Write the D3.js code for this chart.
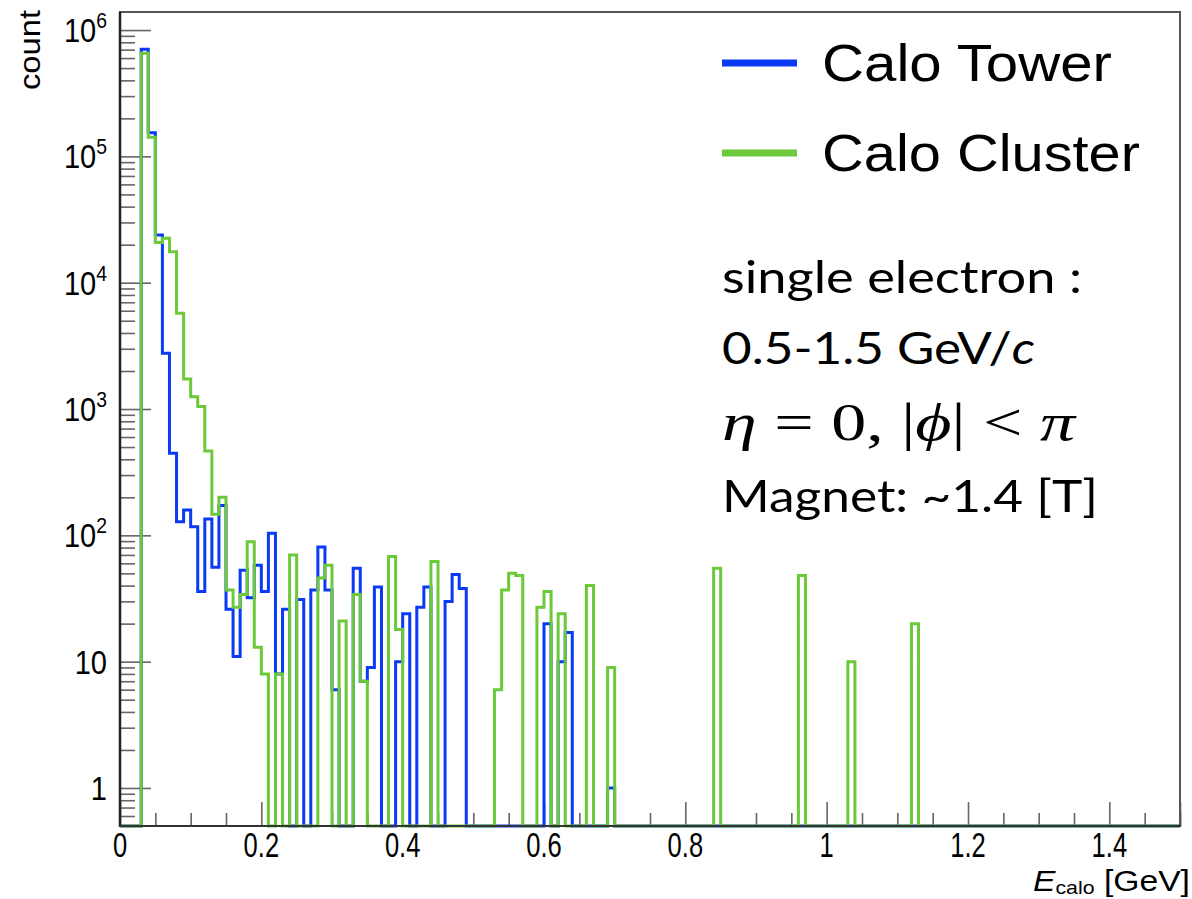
<!DOCTYPE html>
<html>
<head>
<meta charset="utf-8">
<script src="https://cdn.jsdelivr.net/npm/d3@7"></script>
<style>
body { margin: 0; background: #fff; }
</style>
</head>
<body>
<div id="wrapper"></div>
<script>
// histogram, 150 bins of 0.01 GeV from 0 to 1.5
var BIN_WIDTH = 0.01;

var towerCounts = [
    0, 0, 0, 706000, 154000, 23900, 2770, 447, 128, 159,
    117, 36, 135, 56, 172, 26, 11, 53, 32, 58,
    36, 104, 8, 26, 0, 31, 0, 37, 81, 37,
    6, 0, 0, 55, 7, 9, 39, 0, 0, 10,
    24, 0, 27, 39, 0, 0, 30, 49, 38, 0,
    0, 0, 0, 0, 0, 0, 0, 0, 0, 0,
    20, 0, 10, 17, 0, 0, 0, 0, 0, 1,
    0, 0, 0, 0, 0, 0, 0, 0, 0, 0,
    0, 0, 0, 0, 0, 0, 0, 0, 0, 0,
    0, 0, 0, 0, 0, 0, 0, 0, 0, 0,
    0, 0, 0, 0, 0, 0, 0, 0, 0, 0,
    0, 0, 0, 0, 0, 0, 0, 0, 0, 0,
    0, 0, 0, 0, 0, 0, 0, 0, 0, 0,
    0, 0, 0, 0, 0, 0, 0, 0, 0, 0,
    0, 0, 0, 0, 0, 0, 0, 0, 0, 0
];

var clusterCounts = [
    0, 0, 0, 656000, 142000, 20800, 22500, 17600, 5730, 1730,
    1250, 1045, 466, 147, 200, 37, 27, 34, 89, 13,
    8, 0, 8, 0, 70, 0, 0, 0, 46, 58,
    0, 21, 0, 34, 7, 0, 0, 0, 68, 18,
    0, 0, 0, 0, 62, 0, 0, 0, 0, 0,
    0, 0, 0, 6, 37, 50, 48, 0, 0, 27,
    36, 0, 24, 0, 0, 0, 40, 0, 0, 9,
    0, 0, 0, 0, 0, 0, 0, 0, 0, 0,
    0, 0, 0, 0, 55, 0, 0, 0, 0, 0,
    0, 0, 0, 0, 0, 0, 48, 0, 0, 0,
    0, 0, 0, 10, 0, 0, 0, 0, 0, 0,
    0, 0, 20, 0, 0, 0, 0, 0, 0, 0,
    0, 0, 0, 0, 0, 0, 0, 0, 0, 0,
    0, 0, 0, 0, 0, 0, 0, 0, 0, 0,
    0, 0, 0, 0, 0, 0, 0, 0, 0, 0
];

var xTicks = [0, 0.2, 0.4, 0.6, 0.8, 1, 1.2, 1.4];
var xTickLabels = ["0", "0.2", "0.4", "0.6", "0.8", "1", "1.2", "1.4"];

var yTicks = [1, 10, 1e2, 1e3, 1e4, 1e5, 1e6];
var yTickBases = ["1", "10", "10", "10", "10", "10", "10"];
var yTickExps = ["", "", "2", "3", "4", "5", "6"];

var seriesNames = ["Calo Tower", "Calo Cluster"];
var seriesColors = ["#0a3af5", "#6cc93a"];

var noteLines = ["single electron :", "Magnet: ~1.4 [T]"];

function build() {
    var width = 1192, height = 899;

    var svg = d3.select("#wrapper")
        .append("svg")
        .attr("width", width)
        .attr("height", height);

    var x = d3.scaleLinear().domain([0, 1.5]).range([120, 1180]);
    var y = d3.scaleLog().domain([0.5, 1.39e6]).range([826, 12]).clamp(true);

    // minor ticks
    var xMinor = d3.range(0, 1.5001, 0.05).filter(v => Math.abs(v / 0.2 - Math.round(v / 0.2)) > 1e-6);
    var yMinor = [];
    for (var k = -1; k <= 6; k++) {
        for (var m = 2; m <= 9; m++) {
            var v = m * Math.pow(10, k);
            if (v > 0.5 && v < 1.39e6) yMinor.push(v);
        }
    }

    var tickCol = "#666";

    var xMinorAxis = svg.append("g")
        .attr("transform", "translate(0,826)")
        .call(d3.axisBottom(x).tickValues(xMinor).tickSize(-13).tickFormat(""));
    var xMajorAxis = svg.append("g")
        .attr("transform", "translate(0,826)")
        .call(d3.axisBottom(x).tickValues(xTicks.concat([1.5])).tickSize(-24).tickFormat(""));
    var yMinorAxis = svg.append("g")
        .attr("transform", "translate(120,0)")
        .call(d3.axisLeft(y).tickValues(yMinor).tickSize(-15).tickFormat(""));
    var yMajorAxis = svg.append("g")
        .attr("transform", "translate(120,0)")
        .call(d3.axisLeft(y).tickValues(yTicks).tickSize(-31).tickFormat(""));

    [xMinorAxis, xMajorAxis, yMinorAxis, yMajorAxis].forEach(g => {
        g.select(".domain").remove();
        g.selectAll("line").attr("stroke", tickCol).attr("stroke-width", 1.6);
    });

    // histograms
    function histPoints(counts) {
        var pts = counts.map((c, i) => [i * BIN_WIDTH, c]);
        pts.push([counts.length * BIN_WIDTH, counts[counts.length - 1]]);
        return pts;
    }

    var stepLine = d3.line()
        .x(d => x(d[0]))
        .y(d => y(Math.max(d[1], 0.5)))
        .curve(d3.curveStepAfter);

    [towerCounts, clusterCounts].forEach((counts, i) => {
        svg.append("path")
            .attr("d", stepLine(histPoints(counts)))
            .attr("fill", "none")
            .attr("stroke", seriesColors[i])
            .attr("stroke-width", 3)
            .attr("stroke-linejoin", "miter");
    });

    // frame
    svg.append("rect")
        .attr("x", 120).attr("y", 12)
        .attr("width", 1060).attr("height", 814)
        .attr("fill", "none")
        .attr("stroke", "#555")
        .attr("stroke-width", 2);
    svg.append("line")
        .attr("x1", 120).attr("x2", 120)
        .attr("y1", 12).attr("y2", 827)
        .attr("stroke", "#222").attr("stroke-width", 2.5);
    svg.append("line")
        .attr("x1", 119).attr("x2", 1181)
        .attr("y1", 826).attr("y2", 826)
        .attr("stroke", "#333").attr("stroke-width", 2);

    var axisFont = "'Liberation Sans', Arial, sans-serif";

    // x tick labels (narrow, like ROOT's helvetica)
    svg.append("g")
        .selectAll("text")
        .data(xTicks)
        .enter()
        .append("text")
        .attr("transform", d => `translate(${x(d)},857) scale(0.73,1)`)
        .attr("text-anchor", "middle")
        .style("font-family", axisFont)
        .style("font-size", "35px")
        .text((d, i) => xTickLabels[i]);

    // y tick labels
    var yLab = svg.append("g")
        .selectAll("text")
        .data(yTicks)
        .enter()
        .append("text")
        .attr("transform", d => `translate(107,${y(d) + 12}) scale(0.88,1)`)
        .attr("text-anchor", "end")
        .style("font-family", axisFont)
        .style("font-size", "33px");
    yLab.append("tspan").text((d, i) => yTickBases[i]);
    yLab.append("tspan")
        .attr("dy", -14)
        .style("font-size", "22px")
        .text((d, i) => yTickExps[i]);

    // axis titles
    svg.append("text")
        .attr("transform", "translate(40,10) rotate(-90)")
        .attr("text-anchor", "end")
        .attr("textLength", 80)
        .attr("lengthAdjust", "spacingAndGlyphs")
        .style("font-family", axisFont)
        .style("font-size", "30px")
        .text("count");

    var xTitle = svg.append("text")
        .attr("x", 1033)
        .attr("y", 891)
        .attr("textLength", 157)
        .attr("lengthAdjust", "spacingAndGlyphs")
        .style("font-family", axisFont)
        .style("font-size", "30px");
    xTitle.append("tspan").style("font-style", "italic").text("E");
    xTitle.append("tspan").attr("dy", 3).style("font-size", "19px").text("calo");
    xTitle.append("tspan").attr("dy", -3).text(" [GeV]");

    // legend
    var legendWidths = [290, 318];
    seriesNames.forEach((name, i) => {
        var ly = 63 + i * 90;
        svg.append("line")
            .attr("x1", 722).attr("x2", 797)
            .attr("y1", ly).attr("y2", ly)
            .attr("stroke", seriesColors[i])
            .attr("stroke-width", 7);
        svg.append("text")
            .attr("x", 822)
            .attr("y", ly + 18)
            .attr("textLength", legendWidths[i])
            .attr("lengthAdjust", "spacingAndGlyphs")
            .style("font-family", "'Liberation Sans', Arial, sans-serif")
            .style("font-size", "52px")
            .text(name);
    });

    // notes
    var noteFont = "Lato, 'Open Sans', sans-serif";
    svg.append("text")
        .attr("x", 722).attr("y", 293)
        .attr("textLength", 360)
        .attr("lengthAdjust", "spacingAndGlyphs")
        .style("font-family", noteFont)
        .style("font-size", "45px")
        .text(noteLines[0]);

    var momentum = svg.append("text")
        .attr("x", 722).attr("y", 364)
        .attr("textLength", 313)
        .attr("lengthAdjust", "spacingAndGlyphs")
        .style("font-family", noteFont)
        .style("font-size", "45px");
    momentum.append("tspan").text("0.5-1.5 GeV/");
    momentum.append("tspan").style("font-style", "italic").text("c");

    var mathLine = svg.append("text")
        .attr("x", 722).attr("y", 440)
        .attr("textLength", 353)
        .attr("lengthAdjust", "spacingAndGlyphs")
        .style("font-family", "'Liberation Serif', 'DejaVu Serif', serif")
        .style("font-size", "52px");
    mathLine.append("tspan").style("font-style", "italic").text("η");
    mathLine.append("tspan").text(" = 0, |");
    mathLine.append("tspan").style("font-style", "italic").text("ϕ");
    mathLine.append("tspan").text("| < ");
    mathLine.append("tspan").style("font-style", "italic").text("π");

    svg.append("text")
        .attr("x", 722).attr("y", 512)
        .attr("textLength", 376)
        .attr("lengthAdjust", "spacingAndGlyphs")
        .style("font-family", noteFont)
        .style("font-size", "45px")
        .text(noteLines[1]);
}

build();
</script>
</body>
</html>
